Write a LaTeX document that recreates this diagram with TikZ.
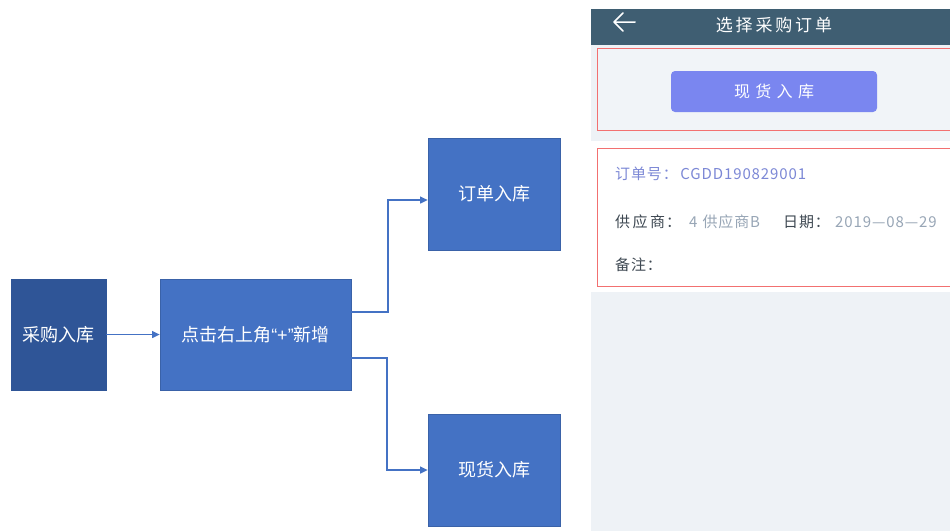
\documentclass[tikz,border=0pt]{standalone}
\usepackage{fontspec}
\setmainfont{Noto Sans CJK SC}
\newfontfamily\cjk{Noto Sans CJK SC}
\newfontfamily\latinq{Liberation Sans}
\newfontfamily\cardfont[LetterSpace=6]{Noto Sans CJK SC}
\usetikzlibrary{arrows.meta}
\definecolor{darkblue}{HTML}{2F5597}
\definecolor{midblue}{HTML}{4472C4}
\definecolor{edgeblue}{HTML}{3A62A8}
\definecolor{barcol}{HTML}{3F5E72}
\definecolor{pagebg}{HTML}{EEF2F6}
\definecolor{cardbg}{HTML}{F1F4F8}
\definecolor{redline}{HTML}{F27070}
\definecolor{btncol}{HTML}{7A86F0}
\definecolor{ordertxt}{HTML}{7C88D6}
\definecolor{labeltxt}{HTML}{3E4852}
\definecolor{valtxt}{HTML}{98A6B6}
\begin{document}
\begin{tikzpicture}[x=1pt,y=-1pt,
  flowbox/.style={draw=edgeblue,line width=0.8pt,fill=midblue,text=white,font=\cjk\fontsize{18}{20}\selectfont,inner sep=0pt},
  conn/.style={midblue,line width=1.3pt,-{Triangle[length=7.5pt,width=7pt]}},
  cardtxt/.style={anchor=west,inner sep=0pt,font=\cardfont\fontsize{15}{17}\selectfont}]
\useasboundingbox (0,0) rectangle (950,531);
\fill[white] (0,0) rectangle (950,531);
% flow chart
\node[flowbox,draw=darkblue,fill=darkblue,minimum width=95pt,minimum height=111pt] (cg) at (58.5,334.5) {采购入库};
\node[flowbox,minimum width=191pt,minimum height=111pt] (dj) at (255.5,334.5) {点击右上角{\latinq “+”}新增};
\node[flowbox,minimum width=132pt,minimum height=112pt] (dd) at (494,194) {订单入库};
\node[flowbox,minimum width=132pt,minimum height=112pt] (xh) at (494,470) {现货入库};
\draw[conn] (cg.east) -- (dj.west);
\coordinate (a1) at (351,312);
\coordinate (a2) at (351,358);
\coordinate (b1) at (dd.west |- 0,200);
\coordinate (b2) at (xh.west |- 0,470);
\draw[conn] (a1) -- (388,312) |- (b1);
\draw[conn] (a2) -- (387,358) |- (b2);
% phone screen
\fill[pagebg] (591,45) rectangle (950,531);
\fill[barcol] (591,9) rectangle (950,45);
\node[inner sep=0pt] (back) at (624,22) {};
\draw[white,line width=1.5pt,line cap=round,line join=round] (635,22) -- (614,22) (623,13) -- (614,22) -- (623,31);
\node[text=white,font=\cjk\fontsize{17}{19}\selectfont,inner sep=0pt] (title) at (774,25) {选\,择\,采\,购\,订\,单};
% card 1
\fill[cardbg] (597,48) rectangle (950,131);
\draw[redline,line width=1pt] (952,48.5) -- (597.5,48.5) -- (597.5,130.5) -- (952,130.5);
\node[fill=btncol,rounded corners=4pt,minimum width=206pt,minimum height=41pt,inner sep=0pt,text=white,font=\cjk\fontsize{16}{18}\selectfont] (btn) at (774,91.5) {现\,\,货\,\,入\,\,库};
% card 2
\fill[white] (591,141) rectangle (950,292);
\node[draw=redline,line width=1pt,fill=white,minimum width=360pt,minimum height=138pt,anchor=north west,inner sep=0pt] (card2) at (597,148) {};
\node[cardtxt,text=ordertxt] (ord) at (615,174) {订单号：\,CGDD190829001};
\node[cardtxt,text=labeltxt] (sup) at (615,222) {供\,应\,商：};
\node[cardtxt,text=valtxt] (supv) at (689,222) {4\,\,供应商B};
\node[cardtxt,text=labeltxt] (dt) at (783,222) {日期：};
\node[cardtxt,text=valtxt] (dtv) at (835,222) {2019—08—29};
\node[cardtxt,text=labeltxt] (bz) at (615,265) {备注：};
\end{tikzpicture}
\end{document}
